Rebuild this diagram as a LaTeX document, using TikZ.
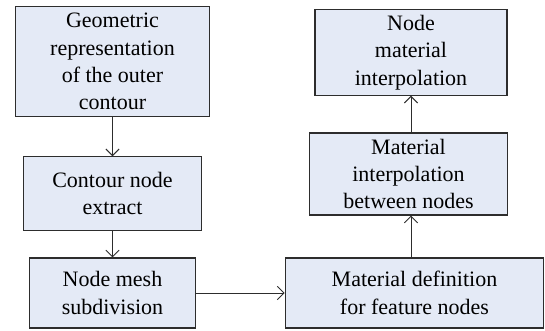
\documentclass[tikz,border=0pt]{standalone}
\usepackage{fontspec}
\setmainfont{Liberation Serif}
\usetikzlibrary{arrows.meta}

\definecolor{boxfill}{RGB}{228,234,246}
\definecolor{boxline}{RGB}{45,45,45}

\tikzset{
  box/.style={draw=boxline,fill=boxfill,line width=0.8pt,inner sep=0pt,align=center,
    font=\fontsize{16.5}{20.5}\selectfont},
  flow/.style={draw=boxline,line width=0.7pt,-{Straight Barb[length=5pt,width=10pt]}}
}

\begin{document}
\begin{tikzpicture}[x=0.75pt,y=-0.75pt]
\path[use as bounding box] (0,0) rectangle (545,330);
\node[box,minimum width=146pt,minimum height=82pt] (geo) at (112.5,61.5) {Geometric\\representation\\of the outer\\contour};
\node[box,minimum width=134pt,minimum height=55pt] (contour) at (112.5,193.5) {Contour node\\extract};
\node[box,minimum width=125pt,minimum height=52.5pt] (mesh) at (112.5,293) {Node mesh\\subdivision};
\node[box,minimum width=194pt,minimum height=52.5pt] (matdef) at (414.5,293) {Material definition\\for feature nodes};
\node[box,minimum width=149pt,minimum height=61.5pt] (matinterp) at (408.5,174) {Material\\interpolation\\between nodes};
\node[box,minimum width=144pt,minimum height=64pt] (nodemat) at (411,52.5) {Node\\material\\interpolation};
\draw[flow] (geo.south) -- (contour.north);
\draw[flow] (contour.south) -- (mesh.north);
\draw[flow] (mesh.east) -- (matdef.west);
\draw[flow] (matdef.north -| nodemat.south) -- (matinterp.south -| nodemat.south);
\draw[flow] (matinterp.north -| nodemat.south) -- (nodemat.south);
\end{tikzpicture}
\end{document}
